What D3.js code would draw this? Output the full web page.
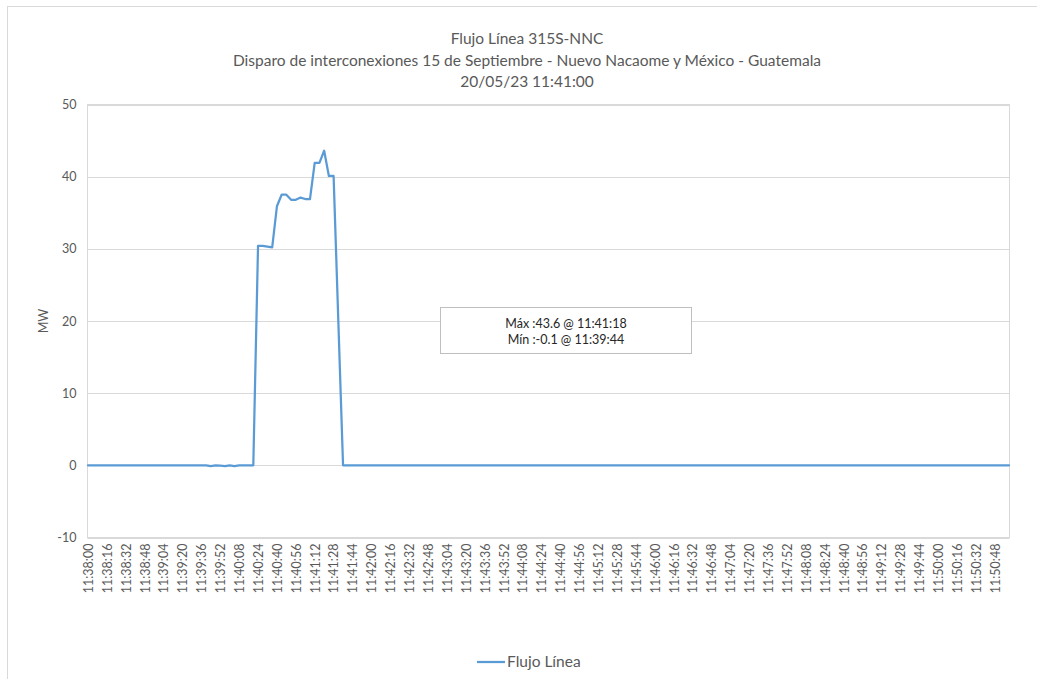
<!DOCTYPE html>
<html>
<head>
<meta charset="utf-8">
<script src="https://cdn.jsdelivr.net/npm/d3@7"></script>
<style>
  html, body { margin: 0; padding: 0; background: #ffffff; }
  svg { display: block; font-family: Lato, "Open Sans", sans-serif; }
</style>
</head>
<body>
<svg id="chart" width="1037" height="679"></svg>
<script>
// Chart text
const titleLines = [
  "Flujo Línea 315S-NNC",
  "Disparo de interconexiones 15 de Septiembre - Nuevo Nacaome y México - Guatemala",
  "20/05/23 11:41:00"
];
const yAxisTitle = "MW";
const seriesName = "Flujo Línea";
const noteLines = ["Máx :43.6 @ 11:41:18", "Mín :-0.1 @ 11:39:44"];

// Sample times (every 4 s, 11:38:00 - 11:51:00)
const startTime = "11:38:00";
const endTime = "11:51:00";
const sampleStepSeconds = 4;
const labelEvery = 4;       // one label per 16 s

// Active power flow, MW, one value per sample
const flow = [
  0, 0, 0, 0, 0, 0, 0, 0, 0, 0,
  0, 0, 0, 0, 0, 0, 0, 0, 0, 0,
  0, 0, 0, 0, 0, 0, -0.1, 0, -0.05, -0.1,
  0, -0.1, 0, 0, 0, 0, 30.4, 30.4, 30.3, 30.2,
  35.9, 37.5, 37.5, 36.8, 36.8, 37.1, 36.9, 36.9, 41.9, 41.9,
  43.6, 40.1, 40.1, 20.0, 0, 0, 0, 0, 0, 0,
  0, 0, 0, 0, 0, 0, 0, 0, 0, 0,
  0, 0, 0, 0, 0, 0, 0, 0, 0, 0,
  0, 0, 0, 0, 0, 0, 0, 0, 0, 0,
  0, 0, 0, 0, 0, 0, 0, 0, 0, 0,
  0, 0, 0, 0, 0, 0, 0, 0, 0, 0,
  0, 0, 0, 0, 0, 0, 0, 0, 0, 0,
  0, 0, 0, 0, 0, 0, 0, 0, 0, 0,
  0, 0, 0, 0, 0, 0, 0, 0, 0, 0,
  0, 0, 0, 0, 0, 0, 0, 0, 0, 0,
  0, 0, 0, 0, 0, 0, 0, 0, 0, 0,
  0, 0, 0, 0, 0, 0, 0, 0, 0, 0,
  0, 0, 0, 0, 0, 0, 0, 0, 0, 0,
  0, 0, 0, 0, 0, 0, 0, 0, 0, 0,
  0, 0, 0, 0, 0, 0
];

const yDomain = [-10, 50];
const yTicks = [-10, 0, 10, 20, 30, 40, 50];

// Category labels hh:mm:ss
const parseT = d3.timeParse("%H:%M:%S");
const fmtT = d3.timeFormat("%H:%M:%S");
const times = d3.timeSecond.every(sampleStepSeconds)
  .range(parseT(startTime), d3.timeSecond.offset(parseT(endTime), 1))
  .map(fmtT);
const data = times.map((t, i) => ({ t, v: flow[i] }));
const tickLabels = times.filter((t, i) => i % labelEvery === 0 && i < times.length - 1);

// Layout
const plot = { left: 87.5, right: 1009.5, top: 104.5, bottom: 537.5 };
const textGray = "#595959";
const gridGray = "#d9d9d9";
const lineBlue = "#5b9bd5";

const svg = d3.select("#chart");

// Chart-area frame
svg.append("rect")
  .attr("x", 7.5).attr("y", 6.5)
  .attr("width", 1040).attr("height", 690)
  .attr("fill", "#fff").attr("stroke", "#d9d9d9").attr("stroke-width", 1);

const x = d3.scalePoint().domain(times).range([plot.left + 0.5, plot.right - 0.5]);
const y = d3.scaleLinear().domain(yDomain).range([plot.bottom, plot.top]);

// Gridlines
svg.append("g").selectAll("line").data(yTicks).join("line")
  .attr("x1", plot.left).attr("x2", plot.right)
  .attr("y1", d => Math.round(y(d)) + 0.5).attr("y2", d => Math.round(y(d)) + 0.5)
  .attr("stroke", gridGray).attr("stroke-width", 1);

// Plot frame
svg.append("rect")
  .attr("x", plot.left).attr("y", plot.top)
  .attr("width", plot.right - plot.left).attr("height", plot.bottom - plot.top)
  .attr("fill", "none").attr("stroke", gridGray).attr("stroke-width", 1);

// Y axis
const yAxis = svg.append("g")
  .attr("transform", `translate(${plot.left},0)`)
  .call(d3.axisLeft(y).tickValues(yTicks).tickFormat(d => String(d)).tickSize(0).tickPadding(11));
yAxis.select(".domain").remove();
yAxis.selectAll("text")
  .attr("fill", textGray).style("font-size", "12.5px")
  .style("font-family", "Lato, sans-serif");

// X axis
const xAxis = svg.append("g")
  .attr("transform", `translate(0,${plot.bottom})`)
  .call(d3.axisBottom(x).tickValues(tickLabels).tickSize(0));
xAxis.select(".domain").remove();
xAxis.selectAll("text")
  .attr("fill", textGray).style("font-size", "12.5px")
  .style("font-family", "Lato, sans-serif")
  .attr("text-anchor", "end")
  .attr("transform", "rotate(-90)")
  .attr("x", -6).attr("y", 0).attr("dy", "0.35em");

// Series line
svg.append("path")
  .datum(data)
  .attr("fill", "none")
  .attr("stroke", lineBlue)
  .attr("stroke-width", 2.25)
  .attr("stroke-linejoin", "round")
  .attr("stroke-linecap", "round")
  .attr("d", d3.line().x(d => x(d.t)).y(d => y(d.v)));

// Titles
svg.append("g").selectAll("text").data(titleLines).join("text")
  .attr("x", 527).attr("y", (d, i) => 44 + i * 21.5)
  .attr("text-anchor", "middle")
  .attr("fill", textGray).style("font-size", "15.5px")
  .text(d => d);

// Y axis title
svg.append("text")
  .attr("transform", `translate(48,${(plot.top + plot.bottom) / 2}) rotate(-90)`)
  .attr("text-anchor", "middle")
  .attr("fill", textGray).style("font-size", "12.5px")
  .text(yAxisTitle);

// Max / min note
const note = svg.append("g");
note.append("rect")
  .attr("x", 440.5).attr("y", 307.5).attr("width", 251).attr("height", 46)
  .attr("fill", "#fff").attr("stroke", "#bfbfbf").attr("stroke-width", 1);
note.selectAll("text").data(noteLines).join("text")
  .attr("x", 566).attr("y", (d, i) => 328 + i * 16)
  .attr("text-anchor", "middle")
  .attr("fill", "#262626").style("font-size", "12.5px")
  .text(d => d);

// Legend
const legend = svg.append("g");
legend.append("line")
  .attr("x1", 477).attr("x2", 505).attr("y1", 662).attr("y2", 662)
  .attr("stroke", lineBlue).attr("stroke-width", 2.25);
legend.append("text")
  .attr("x", 507).attr("y", 667)
  .attr("fill", textGray).style("font-size", "15.5px")
  .text(seriesName);
</script>
</body>
</html>
